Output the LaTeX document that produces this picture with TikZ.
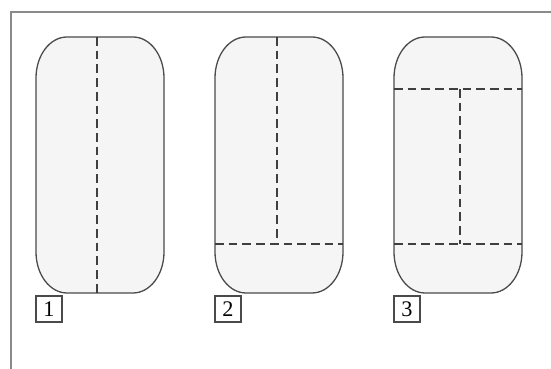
\documentclass[tikz,border=0pt]{standalone}
\usepackage{fontspec}
\setmainfont{Liberation Serif}
\usepackage{tikz}
\usetikzlibrary{positioning}
\definecolor{marcogris}{HTML}{8A8A8A}
\definecolor{bordeosc}{HTML}{4A4A4A}
\definecolor{rellenogris}{HTML}{F5F5F5}
\tikzset{
	marco/.style={line width=1.3pt, draw=marcogris},
	tanque/.style={line width=1.1pt, draw=bordeosc, fill=rellenogris},
	corte/.style={line width=1.6pt, draw=bordeosc!85!black, dash pattern=on 7.5pt off 4.2pt},
	etiqueta/.style={rectangle, draw=bordeosc, line width=1pt, fill=white, minimum size=0.78cm, inner sep=0pt, font=\fontsize{19}{21}\selectfont}
}

\begin{document}
\begin{tikzpicture}[x=0.03cm, y=0.03cm]
		\useasboundingbox (0,0) rectangle (551,369);
		% Marco
		\draw [marco] (11,0) -- (11,357) -- (551,357);
		
		% Tanque 1
		\draw [tanque] (36,117) -- (36,291) arc [start angle=180, end angle=90, x radius=31, y radius=41] -- (133,332) arc [start angle=90, end angle=0, x radius=31, y radius=41] -- (164,117) arc [start angle=0, end angle=-90, x radius=31, y radius=41] -- (67,76) arc [start angle=-90, end angle=-180, x radius=31, y radius=41] -- cycle;
		\draw [corte] (97,332) -- (97,76);
		
		% Tanque 2
		\draw [tanque] (215,117) -- (215,291) arc [start angle=180, end angle=90, x radius=31, y radius=41] -- (312,332) arc [start angle=90, end angle=0, x radius=31, y radius=41] -- (343,117) arc [start angle=0, end angle=-90, x radius=31, y radius=41] -- (246,76) arc [start angle=-90, end angle=-180, x radius=31, y radius=41] -- cycle;
		\draw [corte] (277,332) -- (277,125);
		\draw [corte] (215,125) -- (343,125);
		
		% Tanque 3
		\draw [tanque] (394,117) -- (394,291) arc [start angle=180, end angle=90, x radius=31, y radius=41] -- (491,332) arc [start angle=90, end angle=0, x radius=31, y radius=41] -- (522,117) arc [start angle=0, end angle=-90, x radius=31, y radius=41] -- (425,76) arc [start angle=-90, end angle=-180, x radius=31, y radius=41] -- cycle;
		\draw [corte] (394,280) -- (522,280);
		\draw [corte] (460,280) -- (460,125);
		\draw [corte] (394,125) -- (522,125);
		
		% Etiquetas
		\node [etiqueta] (n1) at (49,60) {1};
		\node [etiqueta] (n2) at (228,60) {2};
		\node [etiqueta] (n3) at (407,60) {3};
	\end{tikzpicture}
\end{document}
